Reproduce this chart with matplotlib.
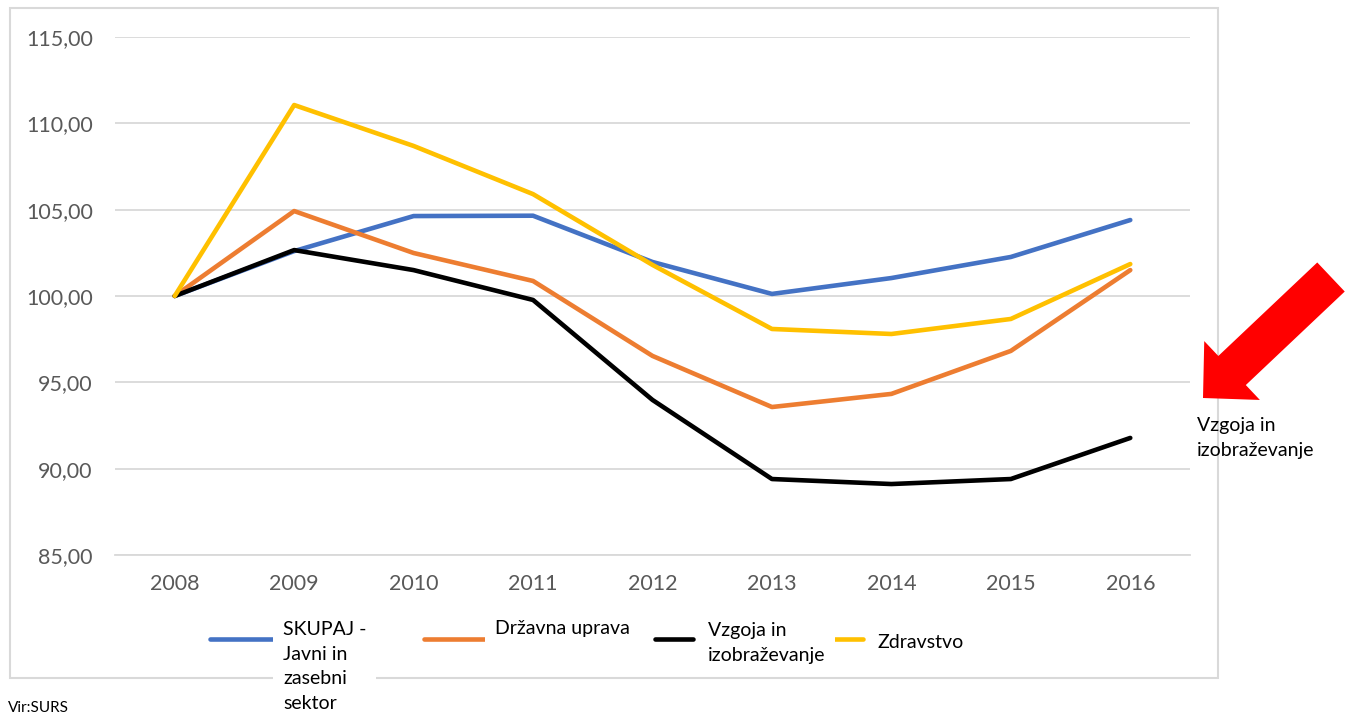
import matplotlib.pyplot as plt
import numpy as np
from matplotlib.lines import Line2D
from matplotlib.patches import Rectangle, FancyArrow
from matplotlib.transforms import IdentityTransform

plt.rcParams['font.family'] = ['Lato', 'DejaVu Sans']

years = ['2008', '2009', '2010', '2011', '2012', '2013', '2014', '2015', '2016']
skupaj = [100.0, 102.6, 104.63, 104.65, 101.97, 100.12, 101.04, 102.26, 104.4]
drzavna = [100.0, 104.92, 102.49, 100.87, 96.53, 93.57, 94.33, 96.82, 101.5]
vzgoja = [100.0, 102.66, 101.5, 99.77, 93.98, 89.4, 89.11, 89.4, 91.78]
zdravstvo = [100.0, 111.06, 108.69, 105.9, 101.8, 98.09, 97.8, 98.67, 101.85]

names = ['SKUPAJ -\nJavni in\nzasebni\nsektor', 'Državna uprava',
         'Vzgoja in\nizobraževanje', 'Zdravstvo']
colors = ['#4472C4', '#ED7D31', '#000000', '#FFC000']
yticks = [85, 90, 95, 100, 105, 110, 115]

W, H = 1352, 717
fig = plt.figure(figsize=(W / 100, H / 100), dpi=100)

def fx(px):
    return px / W

def fy(py):
    return 1 - py / H

# outer chart frame
fig.patches.append(Rectangle((fx(10), fy(678)), fx(1208), 670 / H,
                             transform=fig.transFigure, fill=False,
                             edgecolor='#d9d9d9', lw=1.5, zorder=0))

ax = fig.add_axes([fx(115), fy(555), fx(1075), 518 / H])
x = np.arange(len(years))
for vals, c in zip([skupaj, drzavna, vzgoja, zdravstvo], colors):
    ax.plot(x, vals, color=c, lw=3.3, solid_capstyle='round', zorder=3)

ax.set_xlim(-0.5, len(years) - 0.5)
ax.set_ylim(85, 115)
ax.set_yticks(yticks)
ax.set_yticklabels([f'{v:.2f}'.replace('.', ',') for v in yticks])
ax.set_xticks(x)
ax.set_xticklabels(years)
ax.grid(axis='y', color='#d9d9d9', lw=1.3)
ax.set_axisbelow(True)
for s in ['top', 'right', 'left']:
    ax.spines[s].set_visible(False)
ax.spines['bottom'].set_color('#d9d9d9')
ax.spines['bottom'].set_linewidth(1.3)
ax.tick_params(axis='both', length=0, labelsize=15.5, colors='#595959')
ax.tick_params(axis='y', pad=16)
ax.tick_params(axis='x', pad=14)

# legend drawn by hand to match the Excel layout
leg_lines = [(210, 283), (424, 485), (655, 693), (823, 863)]
leg_text = [(283, 621), (495, 620), (708, 622), (878, 634)]
for (x0, x1), (tx, ty), lab, c in zip(leg_lines, leg_text, names, colors):
    fig.add_artist(Line2D([fx(x0), fx(x1)], [fy(639), fy(639)],
                          transform=fig.transFigure, color=c, lw=3.3,
                          solid_capstyle='round'))
    fig.text(fx(tx), fy(ty), lab, ha='left', va='top', fontsize=14,
             linespacing=1.55, color='black',
             bbox=dict(facecolor='white', edgecolor='none', pad=7))

# red arrow pointing at the education series
tail = (1331, 277)
tip = (1203, 398)
dx, dy = tip[0] - tail[0], tip[1] - tail[1]
arrow = FancyArrow(tail[0], H - tail[1], dx, -dy, width=40, head_width=81,
                   head_length=40, length_includes_head=True,
                   transform=IdentityTransform(), color='#FF0000', lw=0)
fig.patches.append(arrow)
fig.text(fx(1197), fy(417), 'Vzgoja in\nizobraževanje', ha='left', va='top',
         fontsize=14, linespacing=1.55)

fig.text(fx(8), fy(715), 'Vir:SURS', ha='left', va='bottom', fontsize=11)

fig.savefig('out.png', dpi=100)
